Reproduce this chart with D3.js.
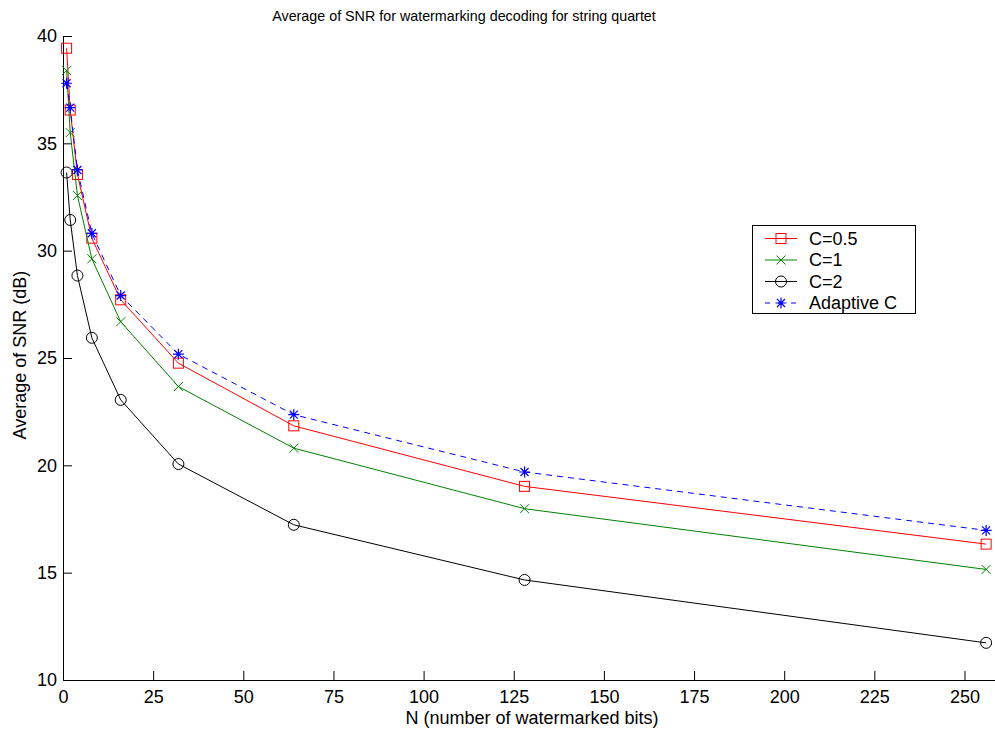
<!DOCTYPE html>
<html>
<head>
<meta charset="utf-8">
<script src="https://cdn.jsdelivr.net/npm/d3@7"></script>
<style>
  html, body { margin: 0; padding: 0; background: #fff; }
  svg { display: block; font-family: "Liberation Sans", Arial, Helvetica, sans-serif; }
</style>
</head>
<body>
<svg id="chart" width="995" height="733"></svg>
<script>
// Number of watermarked bits
const bits = [1, 2, 4, 8, 16, 32, 64, 128, 256];
// Average SNR (dB) for each strength setting
const snrC05 = [39.43, 36.55, 33.55, 30.58, 27.71, 24.76, 21.84, 19.02, 16.33];
const snrC1 = [38.39, 35.50, 32.57, 29.62, 26.69, 23.67, 20.80, 17.98, 15.15];
const snrC2 = [33.64, 31.43, 28.84, 25.94, 23.05, 20.06, 17.23, 14.66, 11.73];
const snrAdaptive = [37.80, 36.66, 33.76, 30.81, 27.91, 25.18, 22.36, 19.69, 16.97];

const seriesNames = ["C=0.5", "C=1", "C=2", "Adaptive C"];
const xTicks = [0, 25, 50, 75, 100, 125, 150, 175, 200, 225, 250];
const yTicks = [10, 15, 20, 25, 30, 35, 40];

const series = [
  { name: seriesNames[0], values: snrC05, color: "#ff0000", marker: "square", dash: null },
  { name: seriesNames[1], values: snrC1, color: "#008000", marker: "x", dash: null },
  { name: seriesNames[2], values: snrC2, color: "#000000", marker: "circle", dash: null },
  { name: seriesNames[3], values: snrAdaptive, color: "#0000ff", marker: "star", dash: "6,5" }
];

const svg = d3.select("#chart");
const plotLeft = 63, plotTop = 36, plotBottom = 680;

const x = d3.scaleLinear().domain([0, 260]).range([plotLeft, plotLeft + 260 * 3.606]);
const y = d3.scaleLinear().domain([10, 40]).range([plotBottom, plotTop]);

// Axes: ticks point inward
const xAxis = svg.append("g")
  .attr("transform", `translate(0,${plotBottom})`)
  .call(d3.axisBottom(x).tickValues(xTicks).tickSizeInner(-9).tickSizeOuter(0).tickPadding(10));
const yAxis = svg.append("g")
  .attr("transform", `translate(${plotLeft},0)`)
  .call(d3.axisLeft(y).tickValues(yTicks).tickSizeInner(-9).tickSizeOuter(0).tickPadding(6));

[xAxis, yAxis].forEach(a => {
  a.select(".domain").attr("stroke", "#000").attr("stroke-width", 1);
  a.selectAll(".tick line").attr("stroke", "#000");
  a.selectAll(".tick text").attr("fill", "#000").style("font-size", "18px")
    .style("font-family", "'Liberation Sans', Arial, sans-serif");
});
yAxis.selectAll(".tick text").attr("x", -6);

// Marker shapes
function drawMarker(g, type, color, cx, cy) {
  if (type === "square") {
    g.append("rect").attr("x", cx - 5).attr("y", cy - 5).attr("width", 10).attr("height", 10)
      .attr("fill", "none").attr("stroke", color).attr("stroke-width", 1);
  } else if (type === "circle") {
    g.append("circle").attr("cx", cx).attr("cy", cy).attr("r", 5.5)
      .attr("fill", "none").attr("stroke", color).attr("stroke-width", 1);
  } else if (type === "x") {
    const s = 4.5;
    g.append("path").attr("d", `M${cx - s},${cy - s}L${cx + s},${cy + s}M${cx - s},${cy + s}L${cx + s},${cy - s}`)
      .attr("stroke", color).attr("stroke-width", 1).attr("fill", "none");
  } else if (type === "star") {
    const s = 5.5, d = 4;
    g.append("path").attr("d",
      `M${cx - s},${cy}L${cx + s},${cy}M${cx},${cy - s}L${cx},${cy + s}` +
      `M${cx - d},${cy - d}L${cx + d},${cy + d}M${cx - d},${cy + d}L${cx + d},${cy - d}`)
      .attr("stroke", color).attr("stroke-width", 1.2).attr("fill", "none");
  }
}

const line = d3.line().x((d, i) => x(bits[i])).y(d => y(d));

series.forEach(s => {
  const g = svg.append("g");
  g.append("path").datum(s.values).attr("d", line)
    .attr("fill", "none").attr("stroke", s.color).attr("stroke-width", 1)
    .attr("stroke-dasharray", s.dash);
  s.values.forEach((v, i) => drawMarker(g, s.marker, s.color, x(bits[i]), y(v)));
});

// Legend
const lg = svg.append("g");
lg.append("rect").attr("x", 752.5).attr("y", 225.5).attr("width", 163).attr("height", 88)
  .attr("fill", "#fff").attr("stroke", "#000").attr("stroke-width", 1);
const legendY = [238.5, 260, 281.5, 303];
series.forEach((s, i) => {
  const ly = legendY[i];
  lg.append("line").attr("x1", 765).attr("x2", 797).attr("y1", ly).attr("y2", ly)
    .attr("stroke", s.color).attr("stroke-width", 1).attr("stroke-dasharray", s.dash ? "5,8" : null);
  drawMarker(lg, s.marker, s.color, 781, ly);
  lg.append("text").attr("x", 809).attr("y", ly).attr("dy", "0.36em")
    .style("font-size", "18px").attr("fill", "#000").text(s.name);
});

// Title and axis labels
svg.append("text").attr("x", 464).attr("y", 21).attr("text-anchor", "middle")
  .style("font-size", "14.3px").attr("fill", "#000")
  .text("Average of SNR for watermarking decoding for string quartet");
svg.append("text").attr("x", 532).attr("y", 724).attr("text-anchor", "middle")
  .style("font-size", "18px").attr("fill", "#000")
  .text("N (number of watermarked bits)");
svg.append("text").attr("transform", `translate(26,355) rotate(-90)`)
  .attr("text-anchor", "middle").style("font-size", "18px").attr("fill", "#000")
  .text("Average of SNR (dB)");
</script>
</body>
</html>
